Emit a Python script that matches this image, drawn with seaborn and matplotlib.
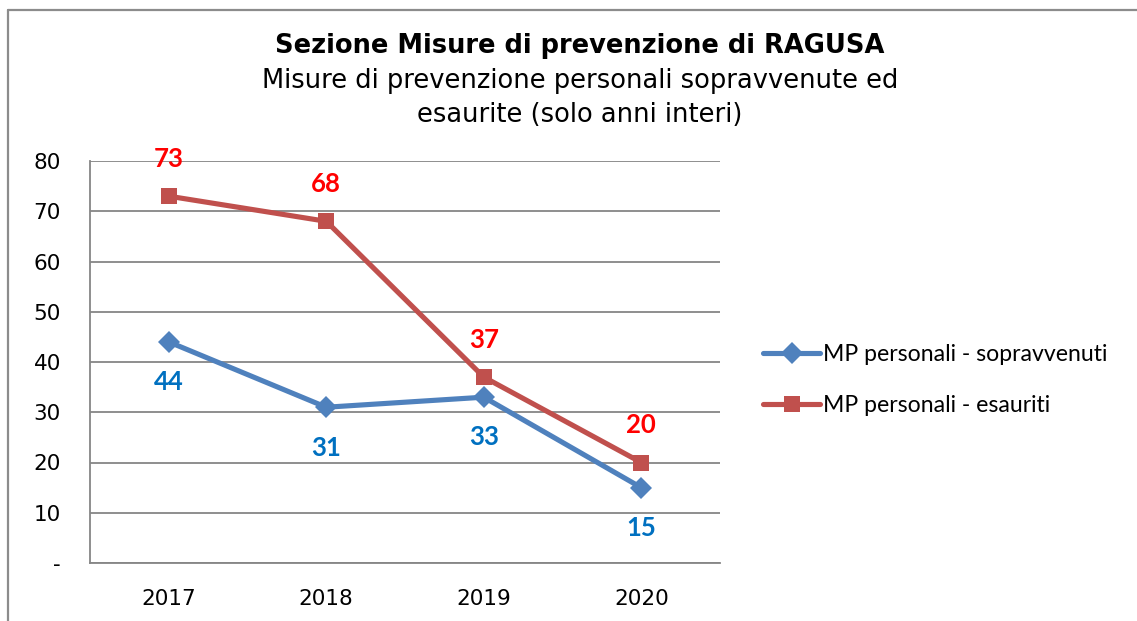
import pandas as pd
import matplotlib.pyplot as plt
import seaborn as sns

# Dati
anni = [2017, 2018, 2019, 2020]
sopravvenuti = [44, 31, 33, 15]
esauriti = [73, 68, 37, 20]
nome_sopr = "MP personali - sopravvenuti"
nome_esau = "MP personali - esauriti"
y_ticks = [0, 10, 20, 30, 40, 50, 60, 70, 80]
y_labels = ["-", "10", "20", "30", "40", "50", "60", "70", "80"]

df = pd.DataFrame({
    "anno": anni * 2,
    "valore": sopravvenuti + esauriti,
    "serie": [nome_sopr] * len(anni) + [nome_esau] * len(anni),
})

sns.set_style("white")
plt.rcParams['font.family'] = ['DejaVu Sans']
plt.rcParams['text.color'] = 'black'
plt.rcParams['xtick.color'] = 'black'
plt.rcParams['ytick.color'] = 'black'

fig = plt.figure(figsize=(11.37, 6.21), dpi=100)
ax = fig.add_axes([90 / 1137, 1 - 563 / 621, 630 / 1137, 402 / 621])

colori = {nome_sopr: "#4F81BD", nome_esau: "#C0504D"}
sns.lineplot(data=df, x="anno", y="valore", hue="serie", style="serie",
             palette=colori, markers={nome_sopr: "D", nome_esau: "s"},
             dashes=False, linewidth=3.7, markersize=11, markeredgewidth=0,
             ax=ax, legend=True)

# Etichette dati
for x, v in zip(anni, esauriti):
    ax.annotate(str(v), (x, v), xytext=(0, 27), textcoords="offset points",
                ha="center", va="center", color="#FF0000", fontsize=18.5,
                fontweight="bold", family="Lato")
for x, v in zip(anni, sopravvenuti):
    ax.annotate(str(v), (x, v), xytext=(0, -29), textcoords="offset points",
                ha="center", va="center", color="#0070C0", fontsize=18.5,
                fontweight="bold", family="Lato")

ax.set_xlim(2016.5, 2020.5)
ax.set_ylim(0, 80)
ax.set_xticks(anni)
ax.set_xticklabels([str(a) for a in anni])
ax.set_yticks(y_ticks)
ax.set_yticklabels(y_labels)
ax.tick_params(axis="both", length=0, labelsize=15.5)
ax.tick_params(axis="y", pad=21)
ax.tick_params(axis="x", pad=19)
ax.set_xlabel("")
ax.set_ylabel("")
ax.grid(axis="y", color="#868686", linewidth=1.3)
ax.set_axisbelow(True)
for s in ["top", "right"]:
    ax.spines[s].set_visible(False)
for s in ["left", "bottom"]:
    ax.spines[s].set_color("#868686")
    ax.spines[s].set_linewidth(1.3)

# Legenda
handles, labels = ax.get_legend_handles_labels()
ax.get_legend().remove()
leg = fig.legend(handles, labels, loc="center left",
                 bbox_to_anchor=(742 / 1137, 1 - 380 / 621), frameon=False,
                 prop={"family": "Lato", "size": 16.6}, handlelength=2.5,
                 handletextpad=0.1, labelspacing=1.3)

# Titolo
fig.text(580 / 1137, 1 - 46 / 621, "Sezione Misure di prevenzione di RAGUSA",
         ha="center", va="center", fontsize=18.5, fontweight="bold")
fig.text(580 / 1137, 1 - 98 / 621,
         "Misure di prevenzione personali sopravvenute ed\nesaurite (solo anni interi)",
         ha="center", va="center", fontsize=18.5, linespacing=1.4)

# Cornice
fig.add_artist(plt.Line2D([8 / 1137, 8 / 1137], [0, 1 - 10 / 621],
                          transform=fig.transFigure, color="#8c8c8c", linewidth=1.6))
fig.add_artist(plt.Line2D([8 / 1137, 1], [1 - 10 / 621, 1 - 10 / 621],
                          transform=fig.transFigure, color="#8c8c8c", linewidth=1.6))

fig.savefig("out.png", dpi=100)
